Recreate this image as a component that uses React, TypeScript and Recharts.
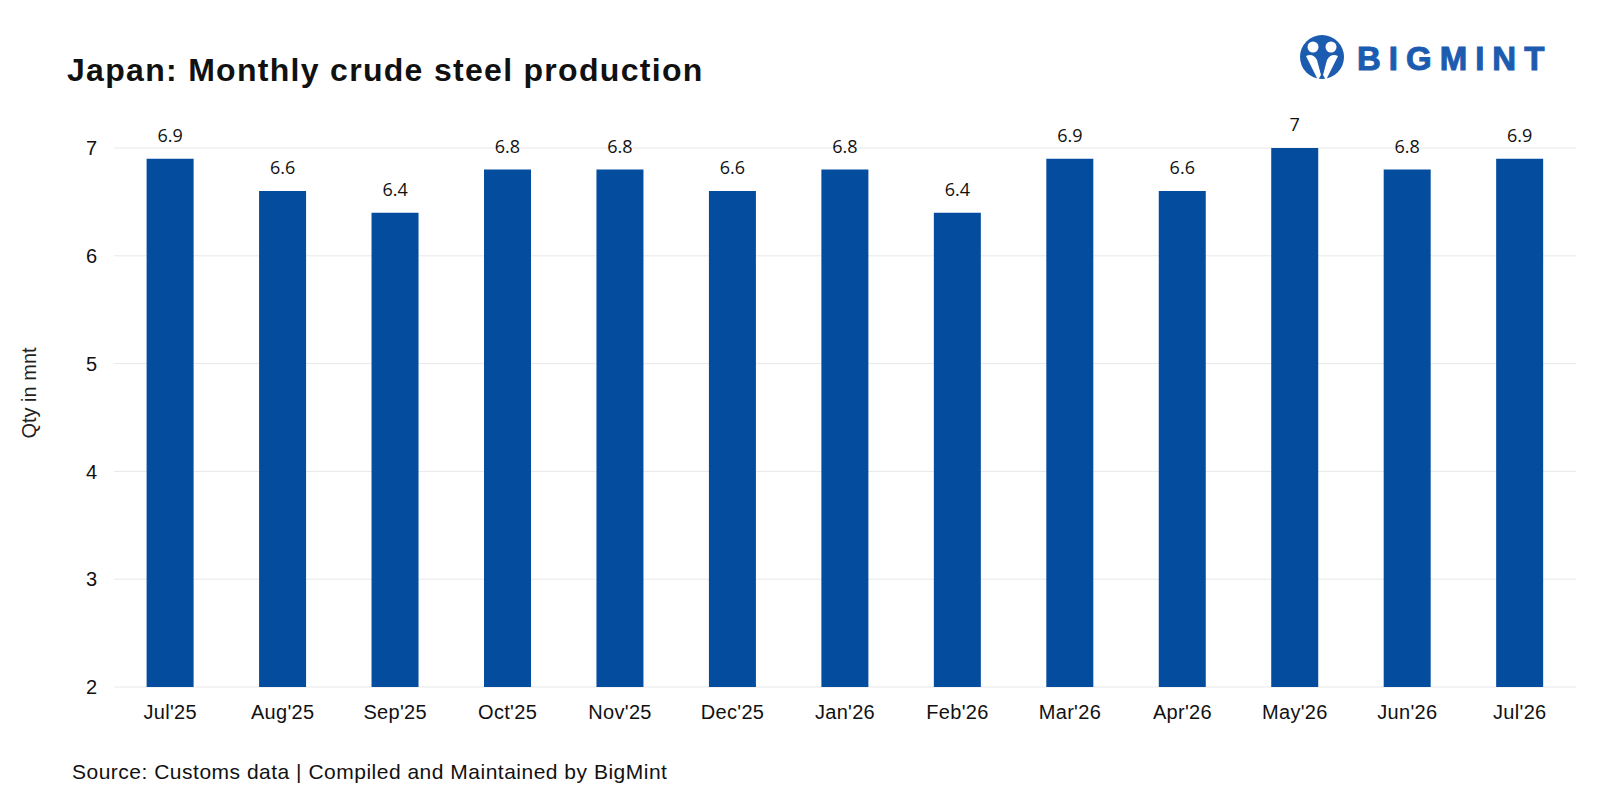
import { BarChart, Bar, XAxis, YAxis, CartesianGrid, LabelList } from 'recharts'

const months = [
  "Jul'25", "Aug'25", "Sep'25", "Oct'25", "Nov'25", "Dec'25", "Jan'26",
  "Feb'26", "Mar'26", "Apr'26", "May'26", "Jun'26", "Jul'26",
]
const production = [6.9, 6.6, 6.4, 6.8, 6.8, 6.6, 6.8, 6.4, 6.9, 6.6, 7, 6.8, 6.9]
const yTicks = [2, 3, 4, 5, 6, 7]

const data = months.map((month, i) => ({ month, value: production[i] }))

const BAR = '#044c9e'
const LOGO = '#1c5cb0'
const FONT = '"Liberation Sans", Arial, sans-serif'

function Logo() {
  return (
    <svg width={300} height={70} style={{ position: 'absolute', left: 1296, top: 30 }}>
      <circle cx={26} cy={27} r={22} fill={LOGO} />
      <circle cx={17} cy={17} r={5.5} fill="#fff" />
      <circle cx={35} cy={17} r={5.5} fill="#fff" />
      <path d="M10 26 Q17 23 21 30 L25 45 L22 50 Z" fill="#fff" />
      <path d="M42 26 Q35 23 31 30 L27 45 L30 50 Z" fill="#fff" />
      <text
        x={61}
        y={40}
        fontFamily={FONT}
        fontWeight={900}
        fontSize={33}
        letterSpacing={8}
        stroke={LOGO}
        strokeWidth={1}
        fill={LOGO}
      >
        BIGMINT
      </text>
    </svg>
  )
}

export default function App() {
  return (
    <div style={{ position: 'absolute', left: 0, top: 0, width: 1600, height: 800, background: '#fff', fontFamily: FONT }}>
      <div
        style={{
          position: 'absolute',
          left: 67,
          top: 52,
          fontSize: 32,
          fontWeight: 700,
          letterSpacing: 1.3,
          color: '#111',
        }}
      >
        Japan: Monthly crude steel production
      </div>
      <Logo />
      <div
        style={{
          position: 'absolute',
          left: 29,
          top: 393,
          transform: 'translate(-50%, -50%) rotate(-90deg)',
          fontSize: 20,
          color: '#222',
          whiteSpace: 'nowrap',
        }}
      >
        Qty in mnt
      </div>
      <BarChart
        width={1600}
        height={800}
        data={data}
        margin={{ top: 148, right: 24, bottom: 73, left: 0 }}
        barCategoryGap="29%"
      >
        <CartesianGrid vertical={false} stroke="#e8e8e8" />
        <XAxis
          dataKey="month"
          height={40}
          tickLine={false}
          axisLine={false}
          tickMargin={12}
          tick={{ fill: '#111', fontSize: 20, fontFamily: FONT, letterSpacing: 0.3 }}
          interval={0}
        />
        <YAxis
          width={114}
          domain={[2, 7]}
          ticks={yTicks}
          tickLine={false}
          axisLine={false}
          tickMargin={11}
          tick={{ fill: '#111', fontSize: 20, fontFamily: FONT }}
        />
        <Bar dataKey="value" fill={BAR} isAnimationActive={false}>
          <LabelList
            dataKey="value"
            position="top"
            offset={17}
            fill="#111"
            fontSize={18}
            fontFamily='"Open Sans", sans-serif'
          />
        </Bar>
      </BarChart>
      <div
        style={{
          position: 'absolute',
          left: 72,
          top: 760,
          fontSize: 21,
          letterSpacing: 0.5,
          color: '#111',
        }}
      >
        Source: Customs data | Compiled and Maintained by BigMint
      </div>
    </div>
  )
}
